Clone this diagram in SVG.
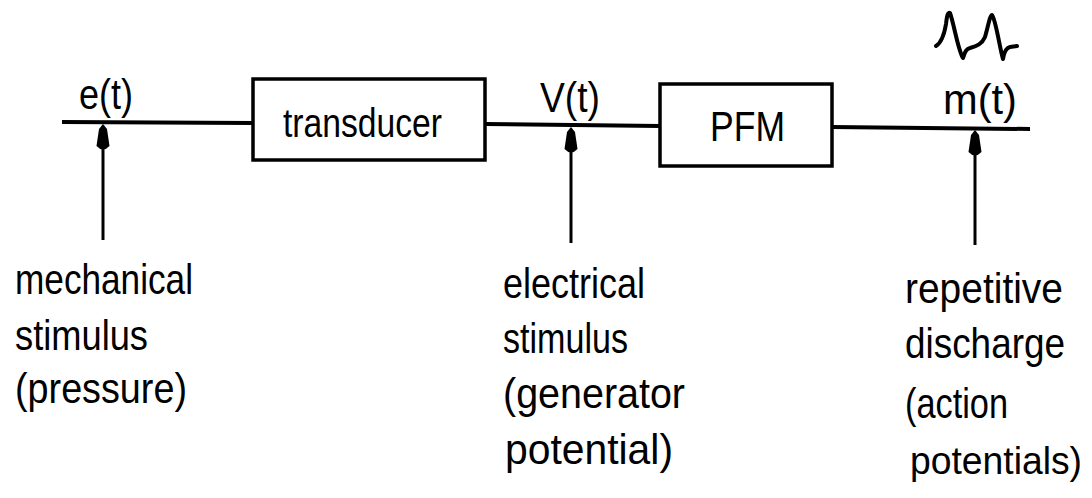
<svg xmlns="http://www.w3.org/2000/svg" xmlns:xlink="http://www.w3.org/1999/xlink" width="1092" height="498" viewBox="0 0 1092 498">
<style>
text{font-family:"Liberation Sans","DejaVu Sans",sans-serif;font-size:42px;fill:#000}
.lbl{font-size:42px}
.tr{font-size:40px}
.sm{font-size:38px}
.box{fill:none;stroke:#000;stroke-width:3.5}
.wire{fill:none;stroke:#000;stroke-width:4}
.shaft{fill:none;stroke:#000;stroke-width:3}
.ah{fill:#000}
</style>
<defs>
<path id="ah" d="M0,0 L-4,5 L-6.5,22 Q0,29 6.5,22 L4,5 Z"/>
</defs>
<rect width="1092" height="498" fill="#fff"/>
<g id="connectors">
<path class="wire" d="M62,122 L253,123"/>
<path class="wire" d="M485,124 L660,126"/>
<path class="wire" d="M832,127 L1030,129"/>
<path class="shaft" d="M103,240 L103,140"/>
<use class="ah" href="#ah" x="103" y="124"/>
<path class="shaft" d="M571,243 L571,142"/>
<use class="ah" href="#ah" x="571" y="127"/>
<path class="shaft" d="M975,245 L975,145"/>
<use class="ah" href="#ah" x="975" y="130"/>
</g>
<g id="transducer">
<rect class="box" x="253" y="79" width="232" height="81"/>
<text class="tr" x="283" y="137" textLength="159" lengthAdjust="spacingAndGlyphs">transducer</text>
</g>
<g id="pfm">
<rect class="box" x="660" y="84" width="172" height="82"/>
<text class="lbl" x="710" y="141" textLength="75" lengthAdjust="spacingAndGlyphs">PFM</text>
</g>
<g id="e-label">
<text class="lbl" x="79" y="109" textLength="54" lengthAdjust="spacingAndGlyphs">e(t)</text>
</g>
<g id="v-label">
<text class="lbl" x="540" y="112" textLength="60" lengthAdjust="spacingAndGlyphs">V(t)</text>
</g>
<g id="m-label">
<text class="lbl" x="943" y="114" textLength="74" lengthAdjust="spacingAndGlyphs">m(t)</text>
<path d="M936,46 C941,43 944,36 946,24 C947,15 948,12 950,13 C954,24 958,50 963,58 C965,52 966,49 970,48 C977,46 982,44 985,37 C988,27 990,15 992,15 C996,20 1000,50 1003,59 C1004,52 1006,48 1010,47 L1017,46" fill="none" stroke="#000" stroke-width="4" stroke-linecap="round" stroke-linejoin="round"/>
</g>
<g id="mechanical">
<text x="15" y="294" textLength="178" lengthAdjust="spacingAndGlyphs">mechanical</text>
<text x="15" y="350" textLength="133" lengthAdjust="spacingAndGlyphs">stimulus</text>
<text x="15" y="403" textLength="172" lengthAdjust="spacingAndGlyphs">(pressure)</text>
</g>
<g id="electrical">
<text x="503" y="298" textLength="142" lengthAdjust="spacingAndGlyphs">electrical</text>
<text x="503" y="353" textLength="125" lengthAdjust="spacingAndGlyphs">stimulus</text>
<text x="503" y="408" textLength="182" lengthAdjust="spacingAndGlyphs">(generator</text>
<text x="505" y="464" textLength="168" lengthAdjust="spacingAndGlyphs">potential)</text>
</g>
<g id="repetitive">
<text x="905" y="303" textLength="158" lengthAdjust="spacingAndGlyphs">repetitive</text>
<text x="905" y="358" textLength="160" lengthAdjust="spacingAndGlyphs">discharge</text>
<text x="905" y="418" textLength="103" lengthAdjust="spacingAndGlyphs">(action</text>
<text class="sm" x="910" y="474" textLength="172" lengthAdjust="spacingAndGlyphs">potentials)</text>
</g>
</svg>
